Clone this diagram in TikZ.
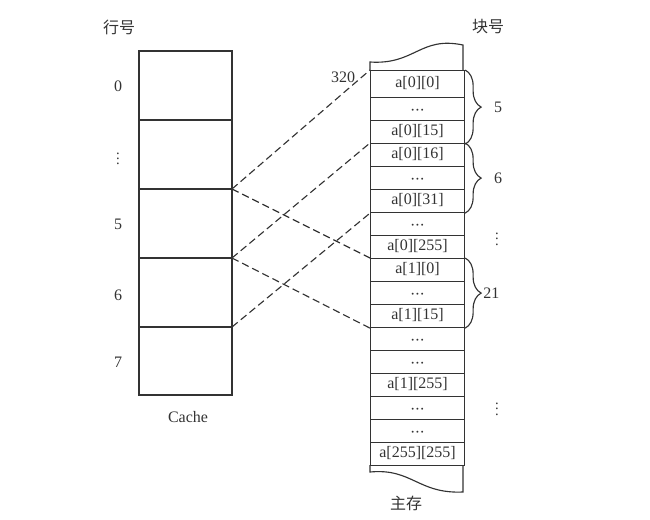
\documentclass[tikz,border=0pt]{standalone}
\usepackage{fontspec}
\setmainfont{Liberation Serif}
\newfontfamily\cjk{Noto Sans CJK SC}
\usetikzlibrary{decorations.pathreplacing}
\newcommand{\mdots}{\raisebox{-2.2pt}{\textperiodcentered\kern-.5pt\textperiodcentered\kern-.5pt\textperiodcentered}}
\tikzset{
  cell/.style={draw,anchor=north west,inner sep=0pt,minimum width=70.5pt,minimum height=17.25pt,
    text height=8.5pt,text depth=2.8pt},
  blockbrace/.style={decorate,decoration={brace,amplitude=12pt}},
  maplink/.style={dashed,dash pattern=on 5.5pt off 3pt},
  vdotsnode/.style={inner sep=0pt,font=\fontsize{11}{11}\selectfont}
}
\begin{document}
\begin{tikzpicture}[x=.75pt,y=-.75pt,line width=.85pt,color=black!80,font=\fontsize{12}{14}\selectfont]
  \useasboundingbox (0,0) rectangle (650,519);
  % cache
  \draw (139,51) rectangle (232,395);
  \foreach \y [count=\n] in {120,189,258,327} {
    \draw (139,\y) -- (232,\y);
    \coordinate (c\n) at (232,\y);
  }
  \node (hh) at (119,27) {\cjk 行号};
  \node (r0) at (118,86) {0};
  \node[vdotsnode] (rd) at (118,155) {$\vdots$};
  \node (r5) at (118,224) {5};
  \node (r6) at (118,295) {6};
  \node (r7) at (118,362) {7};
  \node (cache) at (188,417) {Cache};
  % main memory
  \draw (370,70) -- (370,62) .. controls (415,65) and (420,36) .. (463,45) -- (463,70);
  \draw (370,465) -- (370,472) .. controls (412,468) and (418,494) .. (463,492) -- (463,465);
  \node[cell,minimum height=20.25pt] (m0) at (370,70) {a[0][0]};
  \foreach \txt [count=\k] in {\mdots,{a[0][15]},{a[0][16]},\mdots,{a[0][31]},\mdots,{a[0][255]},
      {a[1][0]},\mdots,{a[1][15]},\mdots,\mdots,{a[1][255]},\mdots,\mdots,{a[255][255]}}
    \node[cell] (m\k) at (370,{97+23*(\k-1)}) {\txt};
  \node (bh) at (488,27) {\cjk 块号};
  \node (mm) at (406,503) {\cjk 主存};
  \node (addr) at (343,77) {320};
  % blocks
  \draw[blockbrace] (m0.north east) -- (m2.south east) node[midway,right=18pt] (b5) {5};
  \draw[blockbrace] (m3.north east) -- (m5.south east) node[midway,right=18pt] (b6) {6};
  \draw[blockbrace] (m8.north east) -- (m10.south east) node[midway,right=10pt] (b21) {21};
  \node[vdotsnode] (bd1) at (497,235) {$\vdots$};
  \node[vdotsnode] (bd2) at (497,405) {$\vdots$};
  % mapping
  \draw[maplink] (c2) -- (m0.north west);
  \draw[maplink] (c2) -- (m8.north west);
  \draw[maplink] (c3) -- (m3.north west);
  \draw[maplink] (c3) -- (m10.south west);
  \draw[maplink] (c4) -- (m5.south west);
\end{tikzpicture}
\end{document}
